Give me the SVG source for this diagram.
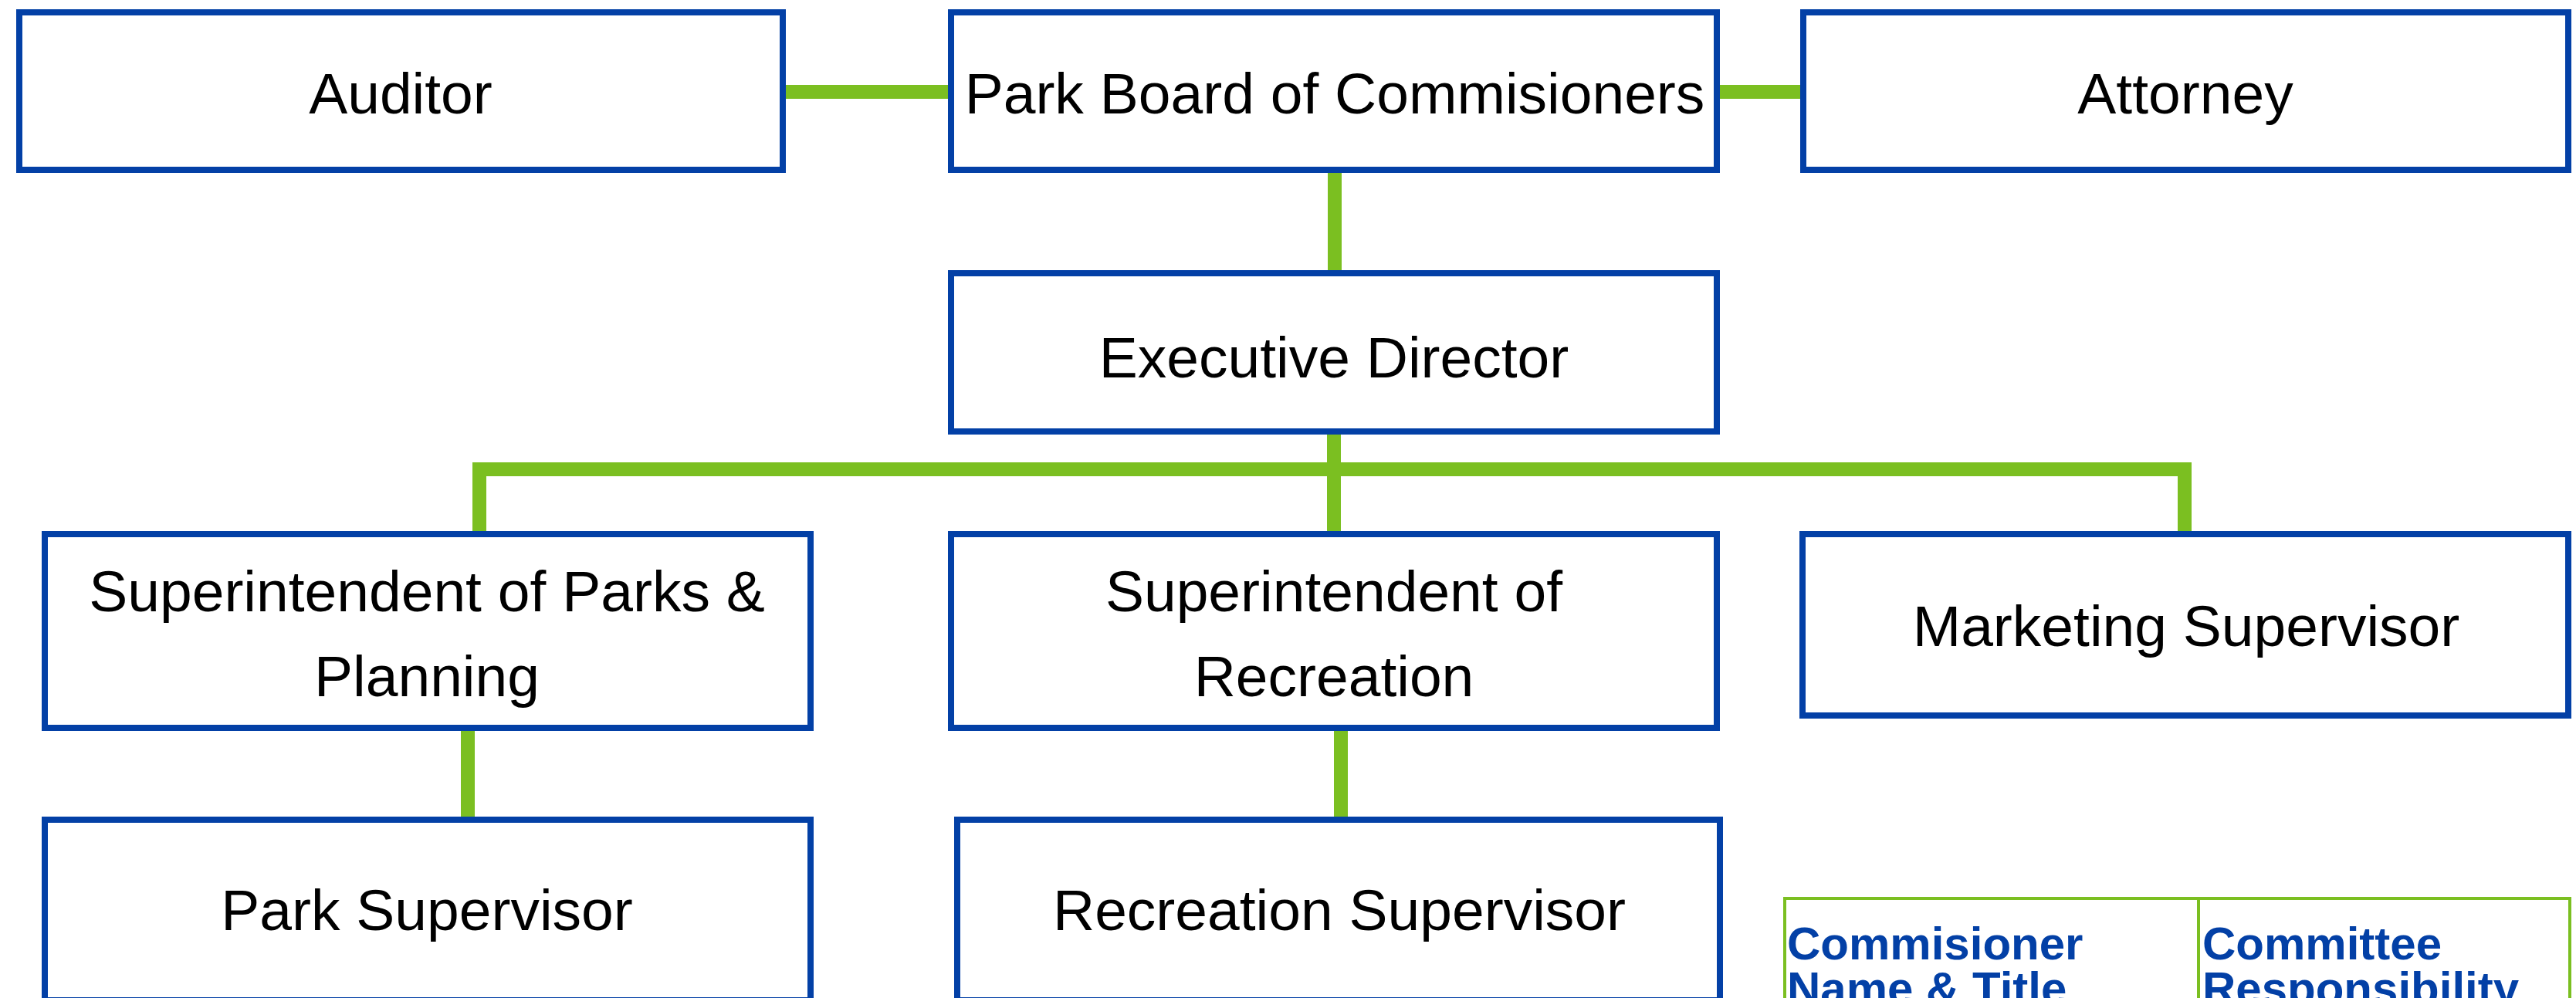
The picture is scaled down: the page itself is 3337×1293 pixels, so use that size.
<svg xmlns="http://www.w3.org/2000/svg" width="3337" height="1293" viewBox="0 0 3337 1293">
<style>
.box{fill:#ffffff;stroke:#0340A6;stroke-width:8}
.lbl{font-family:"Liberation Sans",Arial,sans-serif;font-size:75px;fill:#000000;text-anchor:middle}
.conn{fill:none;stroke:#7BBF21;stroke-width:18;stroke-linejoin:miter;stroke-linecap:butt}
.tbl{fill:none;stroke:#7BBF21;stroke-width:4}
.th{font-family:"Liberation Sans",Arial,sans-serif;font-size:60px;font-weight:bold;fill:#0340A6}
</style>
<rect width="3337" height="1293" fill="#ffffff"/>
<g id="connectors">
<line class="conn" x1="1018" y1="119" x2="1228" y2="119"/>
<line class="conn" x1="2228" y1="119" x2="2332" y2="119"/>
<line class="conn" x1="1729" y1="224" x2="1729" y2="350"/>
<line class="conn" x1="1728" y1="563" x2="1728" y2="688"/>
<polyline class="conn" points="621,688 621,608 2830,608 2830,688"/>
<line class="conn" x1="606" y1="947" x2="606" y2="1058"/>
<line class="conn" x1="1737" y1="947" x2="1737" y2="1058"/>
</g>
<g id="auditor">
<rect class="box" x="25" y="16" width="989" height="204"/>
<text class="lbl" x="519" y="147">Auditor</text>
</g>
<g id="park-board">
<rect class="box" x="1232" y="16" width="992" height="204"/>
<text class="lbl" x="1729" y="147">Park Board of Commisioners</text>
</g>
<g id="attorney">
<rect class="box" x="2336" y="16" width="991" height="204"/>
<text class="lbl" x="2831" y="147">Attorney</text>
</g>
<g id="executive-director">
<rect class="box" x="1232" y="354" width="992" height="205"/>
<text class="lbl" x="1728" y="489">Executive Director</text>
</g>
<g id="supt-parks">
<rect class="box" x="58" y="692" width="992" height="251"/>
<text class="lbl" x="553" y="792">Superintendent of Parks &amp;</text>
<text class="lbl" x="553" y="902">Planning</text>
</g>
<g id="supt-recreation">
<rect class="box" x="1232" y="692" width="992" height="251"/>
<text class="lbl" x="1728" y="792">Superintendent of</text>
<text class="lbl" x="1728" y="902">Recreation</text>
</g>
<g id="marketing-supervisor">
<rect class="box" x="2335" y="692" width="992" height="235"/>
<text class="lbl" x="2832" y="837">Marketing Supervisor</text>
</g>
<g id="park-supervisor">
<rect class="box" x="58" y="1062" width="992" height="234"/>
<text class="lbl" x="553" y="1205">Park Supervisor</text>
</g>
<g id="recreation-supervisor">
<rect class="box" x="1240" y="1062" width="988" height="234"/>
<text class="lbl" x="1735" y="1205">Recreation Supervisor</text>
</g>
<g id="commissioner-table">
<rect class="tbl" x="2312" y="1164" width="1017" height="200"/>
<line class="tbl" x1="2848" y1="1164" x2="2848" y2="1364"/>
<text class="th" x="2315" y="1243">Commisioner</text>
<text class="th" x="2315" y="1301">Name &amp; Title</text>
<text class="th" x="2853" y="1243">Committee</text>
<text class="th" x="2853" y="1301">Responsibility</text>
</g>
</svg>
